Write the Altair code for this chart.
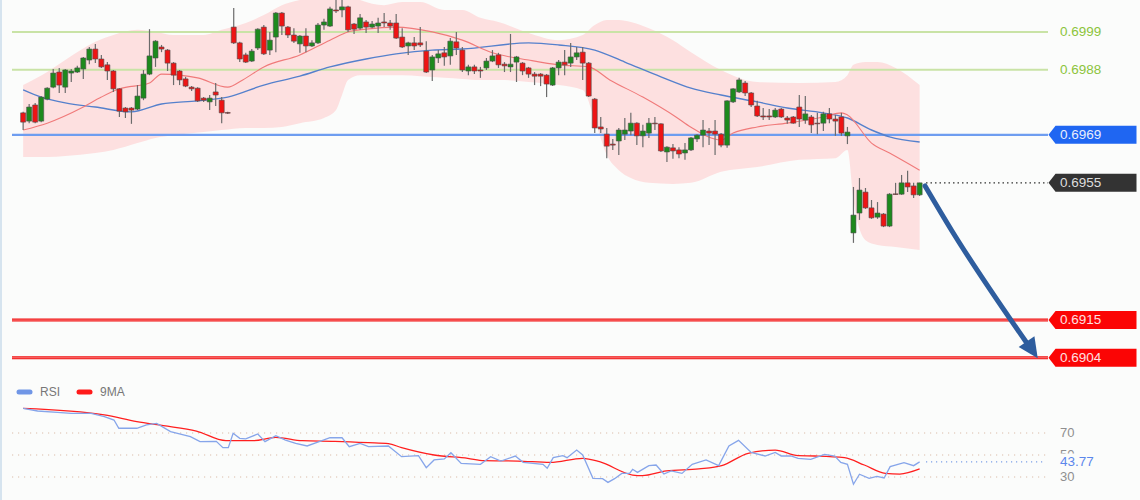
import altair as alt
import pandas as pd

# ---------------- data ----------------
opens = [0.69754, 0.69730, 0.69777, 0.69730, 0.69794, 0.69829, 0.69873, 0.69829, 0.69870, 0.69873,
         0.69882, 0.69908, 0.69940, 0.69911, 0.69894, 0.69876, 0.69824, 0.69768, 0.69768, 0.69765,
         0.69797, 0.69867, 0.69914, 0.69946, 0.69937, 0.69899, 0.69876, 0.69853, 0.69829, 0.69826,
         0.69797, 0.69786, 0.69815, 0.69791, 0.69755, 0.70004, 0.69958, 0.69923, 0.69905, 0.69943,
         0.70004, 0.69937, 0.69975, 0.70045, 0.70004, 0.69981, 0.69955, 0.69978, 0.69949, 0.69958,
         0.70010, 0.70007, 0.70054, 0.70054, 0.70063, 0.70013, 0.70001, 0.70019, 0.70004, 0.70007,
         0.70019, 0.70016, 0.70016, 0.69975, 0.69949, 0.69958, 0.69958, 0.69934, 0.69879, 0.69914,
         0.69929, 0.69920, 0.69961, 0.69937, 0.69876, 0.69888, 0.69879, 0.69885, 0.69905, 0.69923,
         0.69896, 0.69888, 0.69902, 0.69899, 0.69885, 0.69867, 0.69867, 0.69864, 0.69835, 0.69885,
         0.69902, 0.69899, 0.69917, 0.69931, 0.69899, 0.69794, 0.69713, 0.69692, 0.69663, 0.69672,
         0.69692, 0.69701, 0.69724, 0.69687, 0.69695, 0.69724, 0.69722, 0.69640, 0.69652, 0.69646,
         0.69637, 0.69646, 0.69678, 0.69689, 0.69701, 0.69701, 0.69692, 0.69660, 0.69786, 0.69815,
         0.69841, 0.69812, 0.69774, 0.69745, 0.69745, 0.69742, 0.69765, 0.69739, 0.69742, 0.69771,
         0.69733, 0.69742, 0.69724, 0.69724, 0.69751, 0.69736, 0.69742, 0.69687, 0.69404, 0.69462,
         0.69523, 0.69477, 0.69450, 0.69459, 0.69424, 0.69518, 0.69517, 0.69550, 0.69541, 0.69515]
highs = [0.69757, 0.69780, 0.69783, 0.69803, 0.69829, 0.69882, 0.69885, 0.69882, 0.69882, 0.69891,
         0.69917, 0.69946, 0.69955, 0.69923, 0.69902, 0.69879, 0.69826, 0.69771, 0.69771, 0.69835,
         0.69879, 0.69998, 0.69966, 0.69952, 0.69940, 0.69902, 0.69879, 0.69859, 0.69832, 0.69829,
         0.69800, 0.69806, 0.69841, 0.69800, 0.69757, 0.70060, 0.69961, 0.69929, 0.69940, 0.70001,
         0.70010, 0.69990, 0.70048, 0.70048, 0.70007, 0.70001, 0.69981, 0.70001, 0.69966, 0.70016,
         0.70028, 0.70063, 0.70090, 0.70090, 0.70066, 0.70016, 0.70042, 0.70025, 0.70022, 0.70031,
         0.70045, 0.70025, 0.70042, 0.70001, 0.69961, 0.69975, 0.70004, 0.69963, 0.69923, 0.69937,
         0.69946, 0.69972, 0.69990, 0.69946, 0.69894, 0.69894, 0.69888, 0.69914, 0.69937, 0.69929,
         0.69902, 0.69984, 0.69920, 0.69902, 0.69888, 0.69873, 0.69870, 0.69867, 0.69888, 0.69908,
         0.69937, 0.69958, 0.69946, 0.69946, 0.69902, 0.69797, 0.69742, 0.69710, 0.69678, 0.69710,
         0.69739, 0.69754, 0.69727, 0.69719, 0.69739, 0.69742, 0.69724, 0.69657, 0.69663, 0.69654,
         0.69666, 0.69684, 0.69692, 0.69733, 0.69710, 0.69733, 0.69695, 0.69791, 0.69826, 0.69856,
         0.69847, 0.69815, 0.69789, 0.69768, 0.69765, 0.69768, 0.69768, 0.69745, 0.69745, 0.69806,
         0.69803, 0.69748, 0.69754, 0.69757, 0.69768, 0.69748, 0.69754, 0.69713, 0.69538, 0.69564,
         0.69535, 0.69500, 0.69494, 0.69462, 0.69520, 0.69550, 0.69573, 0.69585, 0.69550, 0.69550]
lows = [0.69704, 0.69724, 0.69724, 0.69727, 0.69791, 0.69826, 0.69812, 0.69812, 0.69844, 0.69870,
        0.69853, 0.69896, 0.69899, 0.69885, 0.69850, 0.69815, 0.69742, 0.69739, 0.69722, 0.69762,
        0.69791, 0.69864, 0.69888, 0.69931, 0.69876, 0.69835, 0.69835, 0.69829, 0.69818, 0.69786,
        0.69786, 0.69762, 0.69774, 0.69724, 0.69751, 0.69955, 0.69902, 0.69899, 0.69902, 0.69937,
        0.69923, 0.69923, 0.69931, 0.69981, 0.69972, 0.69958, 0.69929, 0.69931, 0.69946, 0.69955,
        0.69996, 0.70004, 0.70045, 0.70033, 0.69990, 0.69984, 0.69996, 0.69987, 0.70001, 0.69987,
        0.70004, 0.69996, 0.69969, 0.69943, 0.69923, 0.69937, 0.69946, 0.69870, 0.69847, 0.69899,
        0.69891, 0.69894, 0.69923, 0.69873, 0.69864, 0.69867, 0.69856, 0.69879, 0.69902, 0.69885,
        0.69873, 0.69873, 0.69844, 0.69864, 0.69856, 0.69835, 0.69832, 0.69800, 0.69832, 0.69864,
        0.69864, 0.69888, 0.69908, 0.69850, 0.69800, 0.69695, 0.69695, 0.69622, 0.69646, 0.69631,
        0.69675, 0.69689, 0.69660, 0.69654, 0.69681, 0.69704, 0.69640, 0.69611, 0.69620, 0.69622,
        0.69617, 0.69643, 0.69669, 0.69654, 0.69660, 0.69631, 0.69654, 0.69652, 0.69783, 0.69812,
        0.69803, 0.69771, 0.69742, 0.69733, 0.69733, 0.69739, 0.69739, 0.69722, 0.69722, 0.69713,
        0.69722, 0.69695, 0.69692, 0.69701, 0.69724, 0.69687, 0.69687, 0.69663, 0.69375, 0.69442,
        0.69474, 0.69445, 0.69445, 0.69421, 0.69421, 0.69515, 0.69515, 0.69523, 0.69506, 0.69512]
closes = [0.69727, 0.69771, 0.69727, 0.69800, 0.69826, 0.69870, 0.69835, 0.69879, 0.69876, 0.69885,
          0.69914, 0.69940, 0.69911, 0.69888, 0.69876, 0.69824, 0.69759, 0.69757, 0.69762, 0.69803,
          0.69867, 0.69920, 0.69963, 0.69940, 0.69899, 0.69864, 0.69850, 0.69832, 0.69824, 0.69789,
          0.69791, 0.69797, 0.69806, 0.69754, 0.69753, 0.69958, 0.69911, 0.69902, 0.69934, 0.69998,
          0.69926, 0.69966, 0.70045, 0.70007, 0.69981, 0.69963, 0.69978, 0.69949, 0.69958, 0.70010,
          0.70019, 0.70057, 0.70051, 0.70063, 0.69996, 0.69998, 0.70031, 0.70004, 0.70013, 0.70016,
          0.70016, 0.70007, 0.69972, 0.69946, 0.69958, 0.69949, 0.69952, 0.69873, 0.69917, 0.69926,
          0.69917, 0.69963, 0.69943, 0.69879, 0.69888, 0.69876, 0.69876, 0.69905, 0.69920, 0.69894,
          0.69891, 0.69896, 0.69917, 0.69876, 0.69867, 0.69861, 0.69861, 0.69838, 0.69885, 0.69902,
          0.69894, 0.69917, 0.69929, 0.69899, 0.69803, 0.69710, 0.69707, 0.69657, 0.69660, 0.69704,
          0.69704, 0.69724, 0.69687, 0.69701, 0.69724, 0.69722, 0.69643, 0.69654, 0.69643, 0.69634,
          0.69646, 0.69681, 0.69689, 0.69704, 0.69695, 0.69692, 0.69660, 0.69789, 0.69824, 0.69850,
          0.69812, 0.69777, 0.69745, 0.69742, 0.69742, 0.69762, 0.69742, 0.69733, 0.69724, 0.69736,
          0.69751, 0.69719, 0.69722, 0.69751, 0.69736, 0.69730, 0.69695, 0.69698, 0.69456, 0.69529,
          0.69477, 0.69448, 0.69462, 0.69424, 0.69517, 0.69516, 0.69550, 0.69538, 0.69515, 0.69550]

# moving averages (sampled along the candle index)
ma_slow_idx = [0, 3, 7, 12, 18, 23, 29, 34, 40, 46, 51, 57, 62, 68, 73, 84, 89, 95, 100, 106,
               111, 116, 122, 127, 133, 137, 141, 144, 149]
ma_slow = [0.69821, 0.69800, 0.69783, 0.69771, 0.69757, 0.69780, 0.69789, 0.69800, 0.69835, 0.69861,
           0.69888, 0.69911, 0.69926, 0.69937, 0.69940, 0.69958, 0.69952, 0.69937, 0.69902, 0.69859,
           0.69826, 0.69806, 0.69786, 0.69768, 0.69754, 0.69739, 0.69704, 0.69684, 0.69669]
ma_fast_idx = [0, 4, 10, 13, 16, 21, 23, 26, 29, 34, 36.5, 40, 46, 51, 54, 57, 62, 68, 73, 78,
               84, 89, 94, 97.5, 103, 108.5, 111, 116, 118, 122, 127, 133, 136, 137, 141, 144, 149]
ma_fast = [0.69704, 0.69724, 0.69771, 0.69800, 0.69824, 0.69841, 0.69867, 0.69864, 0.69856, 0.69829,
           0.69850, 0.69888, 0.69923, 0.69966, 0.69990, 0.69998, 0.70004, 0.69990, 0.69966, 0.69929,
           0.69908, 0.69894, 0.69888, 0.69850, 0.69800, 0.69742, 0.69712, 0.69675, 0.69695, 0.69713,
           0.69724, 0.69742, 0.69754, 0.69748, 0.69666, 0.69637, 0.69587]

# Bollinger band envelope
band_idx = [0, 4, 7, 12, 15, 19, 22, 25, 30, 33, 37, 40, 43, 46, 50, 52, 53, 54, 56, 60,
            63, 66, 70, 73, 76, 79, 84, 89, 93, 95, 97, 99, 101, 104, 108, 111, 116, 122, 129, 135,
            137, 138, 140, 142, 145, 149]
band_upper = [0.69835, 0.69873, 0.69908, 0.69961, 0.69981, 0.69996, 0.69990, 0.69981, 0.69981, 0.69996,
              0.70016, 0.70039, 0.70068, 0.70083, 0.70098, 0.70098, 0.70098, 0.70098, 0.70083, 0.70068,
              0.70077, 0.70077, 0.70054, 0.70054, 0.70031, 0.70019, 0.69987, 0.69966, 0.69981, 0.70010,
              0.70025, 0.70025, 0.70019, 0.70001, 0.69966, 0.69931, 0.69879, 0.69844, 0.69841, 0.69844,
              0.69864, 0.69894, 0.69902, 0.69902, 0.69885, 0.69835]
band_lower = [0.69625, 0.69625, 0.69628, 0.69637, 0.69646, 0.69666, 0.69681, 0.69689, 0.69698, 0.69704,
              0.69710, 0.69710, 0.69713, 0.69724, 0.69739, 0.69762, 0.69806, 0.69850, 0.69864, 0.69864,
              0.69864, 0.69861, 0.69856, 0.69853, 0.69850, 0.69850, 0.69844, 0.69835, 0.69821, 0.69733,
              0.69631, 0.69587, 0.69564, 0.69550, 0.69547, 0.69550, 0.69582, 0.69596, 0.69617, 0.69622,
              0.69646, 0.69500, 0.69383, 0.69369, 0.69363, 0.69354]

# RSI and its 9-period MA
rsi_idx = [0, 2.4, 5.7, 8, 11.3, 13.5, 15.1, 15.9, 18.9, 20.5, 22.2, 24.5, 27.8, 29.4, 32.1, 33.2,
           34.1, 34.9, 36, 37, 39, 40.2, 42, 43.6, 45.3, 47.2, 49.2, 51, 53, 54.2, 56, 57.4, 60.7,
           62.9, 65.7, 67, 68.3, 70, 71.1, 72.8, 76, 77.7, 79.4, 81.8, 83.1, 86.4, 87.1, 88.1, 89.7,
           90.4, 92, 93, 94.7, 96.3, 97.2, 98.3, 99.5, 100.8, 101.3, 102.1, 104, 105.2, 106.5, 107.7,
           109.5, 111.2, 113.5, 115.6, 117.3, 118.9, 121, 123.3, 125, 126, 127.6, 128.8, 130.9, 133.2,
           134.9, 135.9, 137, 138, 139, 140.6, 141.9, 143.1, 144.1, 146.4, 148, 149]
rsi = [92.4, 90, 88.8, 87.9, 87.9, 84.8, 81.8, 74.3, 74.3, 77.3, 78.8, 71.2, 66.7, 62.1, 62.4, 56.7,
       56.7, 69.7, 65.2, 64.6, 69.1, 62.1, 67.6, 63.6, 60.6, 58.2, 62.1, 65.7, 65.7, 57.6, 60.6, 57.6,
       58.2, 48.5, 49.4, 38.5, 45.5, 46.4, 52.1, 42.4, 41.5, 48.5, 44.5, 49, 43.3, 41.5, 37.9, 47.6,
       49.4, 47.6, 54.5, 50, 28.8, 28.5, 25.1, 28.5, 33.3, 33.3, 37, 34.2, 40.3, 40.9, 32.7, 35.5,
       33.3, 41.5, 45.5, 40.3, 58.2, 63.3, 52.4, 49.1, 52.4, 49.1, 49.1, 47, 46.1, 50.6, 49.1, 43.3,
       41.5, 23.4, 32.5, 28.8, 30.6, 29.1, 39.4, 43, 40.3, 43.77]
rsi_ma_idx = [0, 13.5, 18.9, 23.3, 28.8, 33.7, 38.2, 42, 46.4, 51.8, 57.4, 60.7, 62.9, 68.3, 73.9,
              76.6, 82.2, 87.6, 93, 95.8, 101.3, 102.9, 106.9, 112.3, 116.1, 120.5, 125, 128.8, 131.6,
              136.5, 139.8, 143.3, 145.7, 149]
rsi_ma = [92.4, 86.4, 80.3, 76.7, 71.8, 63, 63, 66, 63, 62.4, 61.2, 60.3, 56.7, 50, 47, 44.8, 44.5,
          43.3, 47, 43.9, 31.8, 31.2, 35.5, 37.3, 40.3, 51.5, 54.5, 49.4, 49.1, 47.6, 40.9, 33.3, 32.7,
          37.3]

# annotated price levels
green_levels = [0.6999, 0.6988]
blue_level = [0.6969]
last_price = [0.6955]
red_levels = [0.6915, 0.6904]
rsi_levels = [70, 50, 30]
rsi_last = [43.77]
legend_names = ["RSI", "9MA"]

# projected path arrow (from last close toward target)
arrow_idx = [149.9, 154.3, 166.7]
arrow_price = [0.69541, 0.69412, 0.69086]
arrow_head = [(167.7, 0.69063)]

# ---------------- chart ----------------
W, H = 1140, 500
BG = "#fbfcfb"
FONT = "Liberation Sans"
xs = alt.Scale(domain=[-3.0148, 184.794], nice=False, zero=False)
ps = alt.Scale(domain=[0.686255, 0.70083], nice=False, zero=False)
rs = alt.Scale(domain=[9.0909, 463.636], nice=False, zero=False)

def X(f):
    return alt.X(f, type="quantitative", scale=xs, axis=None)

def PY(f):
    return alt.Y(f, type="quantitative", scale=ps, axis=None)

def RY(f):
    return alt.Y(f, type="quantitative", scale=rs, axis=None)

cdf = pd.DataFrame({"i": list(range(len(opens))), "o": opens, "h": highs, "l": lows, "c": closes})
band_df = pd.DataFrame({"i": band_idx, "u": band_upper, "lo": band_lower})
slow_df = pd.DataFrame({"i": ma_slow_idx, "v": ma_slow})
fast_df = pd.DataFrame({"i": ma_fast_idx, "v": ma_fast})
rsi_df = pd.DataFrame({"i": rsi_idx, "v": rsi})
rsima_df = pd.DataFrame({"i": rsi_ma_idx, "v": rsi_ma})

def lvl_df(vals, fmt="{:.4f}"):
    return pd.DataFrame({"p": vals, "t": [fmt.format(v) for v in vals]})

green_df = lvl_df(green_levels)
blue_df = lvl_df(blue_level)
last_df = lvl_df(last_price)
red_df = lvl_df(red_levels)
rl_df = pd.DataFrame({"p": rsi_levels, "t": [str(v) for v in rsi_levels]})
rlast_df = pd.DataFrame({"p": rsi_last, "t": ["{:.2f}".format(v) for v in rsi_last]})
arrow_df = pd.DataFrame({"i": arrow_idx, "p": arrow_price})
head_df = pd.DataFrame({"i": [a[0] for a in arrow_head], "p": [a[1] for a in arrow_head]})

layers = []

# Bollinger band
layers.append(alt.Chart(band_df).mark_area(color="#fde0e0", opacity=1, interpolate="monotone")
              .encode(x=X("i"), y=PY("u"), y2="lo"))

# level lines
layers.append(alt.Chart(green_df).mark_rule(color="#c9e3a6", strokeWidth=2)
              .encode(x=alt.value(12), x2=alt.value(1048), y=PY("p")))
layers.append(alt.Chart(blue_df).mark_rule(color="#6e9df0", strokeWidth=2.2)
              .encode(x=alt.value(12), x2=alt.value(1048), y=PY("p")))

# moving averages
layers.append(alt.Chart(slow_df).mark_line(color="#5580cc", strokeWidth=1.4, interpolate="monotone")
              .encode(x=X("i"), y=PY("v")))
layers.append(alt.Chart(fast_df).mark_line(color="#f07a7a", strokeWidth=1.1, interpolate="monotone")
              .encode(x=X("i"), y=PY("v")))

# candles
layers.append(alt.Chart(cdf).mark_rule(color="#6b6b6b", strokeWidth=1.2)
              .encode(x=X("i"), y=PY("l"), y2="h"))
layers.append(alt.Chart(cdf).mark_bar(width=5, stroke="#4d4d4d", strokeWidth=0.6)
              .encode(x=X("i"), y=PY("o"), y2="c",
                      color=alt.condition("datum.c > datum.o", alt.value("#1d8a1d"), alt.value("#ee1414"))))

# last price dotted line
layers.append(alt.Chart(last_df).mark_rule(color="#333333", strokeWidth=1.2, strokeDash=[1.5, 3])
              .encode(x=alt.value(926), x2=alt.value(1048), y=PY("p")))

# red support lines (double look)
layers.append(alt.Chart(red_df).mark_rule(color="#f01010", strokeWidth=3)
              .encode(x=alt.value(12), x2=alt.value(1048), y=PY("p")))
layers.append(alt.Chart(red_df).mark_rule(color="#ff9c9c", strokeWidth=0.8)
              .encode(x=alt.value(12), x2=alt.value(1048), y=PY("p")))

# arrow
layers.append(alt.Chart(arrow_df).mark_line(color="#2e5d9e", strokeWidth=5, strokeCap="round",
                                            interpolate="monotone")
              .encode(x=X("i"), y=PY("p")))
layers.append(alt.Chart(head_df).mark_point(shape="M 1 0 L -1 -0.95 L -1 0.95 Z", size=400, filled=True,
                                            color="#2e5d9e", opacity=1, angle=56)
              .encode(x=X("i"), y=PY("p")))

# label boxes
box = "M -1 0 L -0.84 -0.205 L 1 -0.205 L 1 0.205 L -0.84 0.205 Z"
def box_layer(df, col):
    return alt.Chart(df).mark_point(shape=box, size=7744, filled=True, color=col, opacity=1, strokeWidth=0) \
        .encode(x=alt.value(1092.5), y=PY("p"))

def label_layer(df, col, yscale=PY, size=13.5):
    return alt.Chart(df).mark_text(align="left", baseline="middle", font=FONT, fontSize=size, color=col) \
        .encode(x=alt.value(1060), y=yscale("p"), text="t:N")

layers.append(box_layer(blue_df, "#1f66f2"))
layers.append(box_layer(last_df, "#333333"))
layers.append(box_layer(red_df, "#fb0505"))
layers.append(label_layer(green_df, "#8cc43c"))
layers.append(label_layer(blue_df, "#e8eefc"))
layers.append(label_layer(last_df, "#dddddd"))
layers.append(label_layer(red_df, "#ffe0e0"))

# ---------------- RSI panel ----------------
layers.append(alt.Chart(rl_df).mark_rule(color="#dcbcaa", strokeWidth=1.2, strokeDash=[1.2, 4.8])
              .encode(x=alt.value(12), x2=alt.value(1046), y=RY("p")))
layers.append(alt.Chart(rl_df).mark_text(align="left", baseline="middle", font=FONT, fontSize=13,
                                         color="#8f8f8f")
              .encode(x=alt.value(1060), y=RY("p"), text="t:N"))
layers.append(alt.Chart(rsima_df).mark_line(color="#ff1f1f", strokeWidth=1.3, interpolate="monotone")
              .encode(x=X("i"), y=RY("v")))
layers.append(alt.Chart(rsi_df).mark_line(color="#86a5ea", strokeWidth=1.3)
              .encode(x=X("i"), y=RY("v")))
layers.append(alt.Chart(rlast_df).mark_rule(color="#7d9fe8", strokeWidth=1.2, strokeDash=[1.2, 3.8])
              .encode(x=alt.value(926), x2=alt.value(1046), y=RY("p")))
layers.append(alt.Chart(rlast_df).mark_point(shape="M -1 -0.28 L 1 -0.28 L 1 0.28 L -1 0.28 Z", size=3600,
                                             filled=True, color=BG, opacity=1, strokeWidth=0)
              .encode(x=alt.value(1085), y=RY("p")))
layers.append(alt.Chart(rlast_df).mark_text(align="left", baseline="middle", font=FONT, fontSize=13.5,
                                            color="#5b87ec")
              .encode(x=alt.value(1060), y=RY("p"), text="t:N"))

# legend
leg_df = pd.DataFrame({"name": legend_names, "col": ["#7096e6", "#ff1a1a"]})
layers.append(alt.Chart(leg_df.iloc[[0]]).mark_rule(color="#7096e6", strokeWidth=5, strokeCap="round")
              .encode(x=alt.value(19), x2=alt.value(30), y=alt.value(392)))
layers.append(alt.Chart(leg_df.iloc[[1]]).mark_rule(color="#ff1a1a", strokeWidth=5, strokeCap="round")
              .encode(x=alt.value(79), x2=alt.value(90), y=alt.value(392)))
layers.append(alt.Chart(leg_df.iloc[[0]]).mark_text(align="left", baseline="middle", font=FONT, fontSize=12,
                                                    color="#777777")
              .encode(x=alt.value(40), y=alt.value(392), text="name:N"))
layers.append(alt.Chart(leg_df.iloc[[1]]).mark_text(align="left", baseline="middle", font=FONT, fontSize=12,
                                                    color="#777777")
              .encode(x=alt.value(100), y=alt.value(392), text="name:N"))

# left frame edge
layers.append(alt.Chart(leg_df.iloc[[0]]).mark_rule(color="#d6e4ef", strokeWidth=2)
              .encode(x=alt.value(1), y=alt.value(0), y2=alt.value(500)))

chart = alt.layer(*layers).resolve_scale(y="independent").properties(
    width=W, height=H, background=BG, padding=0,
    autosize=alt.AutoSizeParams(type="none")
).configure_view(stroke=None)

chart.save("out.html", embed_options={"renderer": "svg", "actions": False})
